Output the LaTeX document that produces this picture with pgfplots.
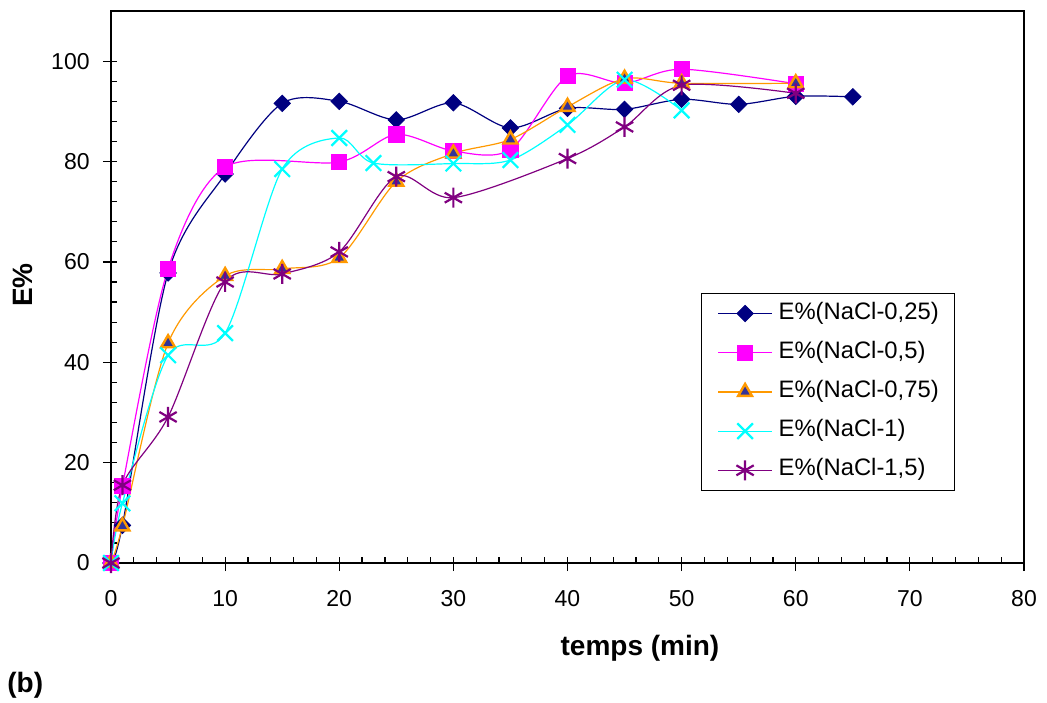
\documentclass[border=0pt]{standalone}
\usepackage{fontspec}
\setmainfont{Liberation Sans}
\usepackage{pgfplots}
\pgfplotsset{compat=1.18}

\definecolor{navy}{RGB}{0,0,128}
\definecolor{mag}{RGB}{255,0,255}
\definecolor{orng}{RGB}{255,153,0}
\definecolor{tri}{RGB}{51,51,153}
\definecolor{cyn}{RGB}{0,255,255}
\definecolor{purp}{RGB}{128,0,128}

\begin{document}
\begin{tikzpicture}
\path[use as bounding box] (-55.5pt,-69.5pt) rectangle (468pt,281.5pt);
\begin{axis}[
  scale only axis, width=456.5pt, height=276pt,
  at={(0,0)}, anchor=south west,
  xmin=0, xmax=80, ymin=0, ymax=110,
  xtick={0,10,...,80}, ytick={0,20,...,100},
  minor x tick num=4, minor y tick num=4,
  tick align=inside, major tick length=3pt, minor tick length=3pt,
  extra x ticks={0,10,...,80}, extra y ticks={0,20,...,100},
  extra x tick labels={}, extra y tick labels={},
  extra tick style={tick align=outside, major tick length=4pt},
  tick pos=left,
  tick style={black, line width=0.6pt},
  axis line style={black, line width=0.7pt},
  clip=false,
  /pgf/number format/assume math mode=true,
  ticklabel style={font=\fontsize{11.5}{13}\selectfont, inner sep=0pt},
  xticklabel style={anchor=north, yshift=-13.5pt},
  yticklabel style={anchor=east, xshift=-10.5pt},
  legend style={at={(axis description cs:0.6462,0.4891)}, anchor=north west,
    draw=black, line width=0.5pt, inner xsep=8pt, inner ysep=4.5pt,
    font=\fontsize{11.9}{13}\selectfont, row sep=8.6pt, column sep=3pt,
    nodes={inner sep=0pt, text height=8.3pt, text depth=2.7pt}},
  legend cell align=left,
  legend image code/.code={\draw[mark repeat=2,mark phase=2,#1] plot coordinates {(0pt,0pt) (13.5pt,0pt) (27pt,0pt)};},
  every axis plot/.append style={line width=0.6pt},
]
\addplot[navy, smooth, mark=square*, mark size=2.9pt, mark options={rotate=45, fill=navy, line width=0.4pt}] coordinates {
(0,0) (1,7.5) (5,57.8) (10,77.5) (15,91.6) (20,92) (25,88.3) (30,91.7) (35,86.7) (40,90.6) (45,90.4) (50,92.4) (55,91.4) (60,93) (65,92.9)};
\addlegendentry{E\%(NaCl-0,25)}
\addplot[mag, smooth, mark=square*, mark size=3.8pt, mark options={fill=mag, line width=0.4pt}] coordinates {
(0,0) (1,15.3) (5,58.6) (10,78.9) (20,79.9) (25,85.4) (30,82.1) (35,82.4) (40,97) (45,95.6) (50,98.4) (60,95.5)};
\addlegendentry{E\%(NaCl-0,5)}
\addplot[orng, smooth, mark=triangle*, mark size=4pt, mark options={draw=orng, fill=tri, line width=1.2pt}] coordinates {
(0,0) (1,7.3) (5,43.8) (10,57.2) (15,58.6) (20,60.8) (25,76) (30,81.6) (35,84.4) (40,90.9) (45,96.5) (50,95.6) (60,95.6)};
\addlegendentry{E\%(NaCl-0,75)}
\addplot[cyn, smooth, mark=x, mark size=5.5pt, mark options={line width=1.1pt}] coordinates {
(0,0) (1,11.9) (5,41.4) (10,45.8) (15,78.5) (20,84.7) (23,79.7) (30,79.6) (35,80.3) (40,87.3) (45,96.3) (50,90.2)};
\addlegendentry{E\%(NaCl-1)}
\addplot[purp, smooth, mark=asterisk, mark size=5pt, mark options={line width=1.1pt}] coordinates {
(0,0) (1,15.5) (5,29.1) (10,56) (15,57.6) (20,62) (25,77) (30,72.8) (40,80.6) (45,86.9) (50,95.2) (60,93.6)};
\addlegendentry{E\%(NaCl-1,5)}
\end{axis}
\node[anchor=base, font=\fontsize{14}{16}\selectfont\bfseries, inner sep=0pt] at (264.5pt,-46pt) {temps (min)};
\node[anchor=base, rotate=90, font=\fontsize{14}{16}\selectfont\bfseries, inner sep=0pt] at (-39pt,139pt) {E\%};
\node[anchor=base west, font=\fontsize{14}{16}\selectfont\bfseries, inner sep=0pt] at (-52pt,-64.5pt) {(b)};
\end{tikzpicture}
\end{document}
